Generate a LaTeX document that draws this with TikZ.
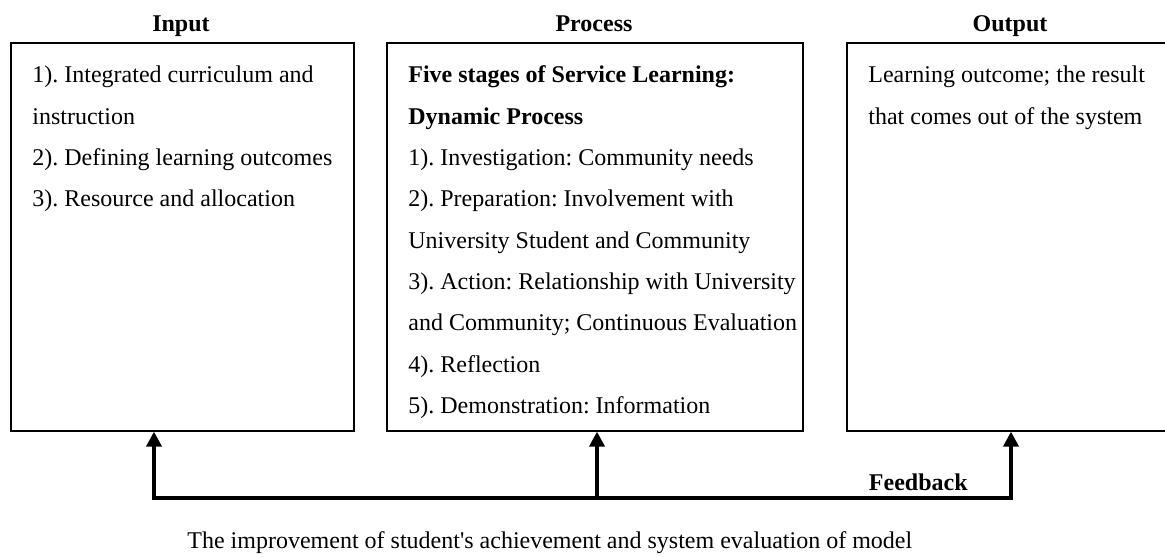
\documentclass[tikz,border=0pt]{standalone}
\usepackage{fontspec}
\setmainfont{Liberation Serif}[Ligatures=TeXOff]
\usetikzlibrary{arrows.meta}
\frenchspacing

\tikzset{
    stagebox/.style={draw, line width=0.8pt, anchor=north west, inner sep=0pt, minimum height=194pt},
    boxtext/.style={anchor=north west, inner sep=0pt, align=left, font=\fontsize{12}{20.65}\selectfont},
    heading/.style={anchor=base, inner sep=0pt, font=\fontsize{12}{14}\selectfont\bfseries},
    feedline/.style={line width=2pt, line join=miter},
    feedtip/.tip={Triangle[length=7.5pt, width=7.5pt]},
}
\newcommand{\firststrut}{\rule{0pt}{10pt}}

\begin{document}
\begin{tikzpicture}[x=0.5pt, y=-0.5pt]
    \useasboundingbox (0,0) rectangle (1165,557);
    \clip (0,0) rectangle (1165,557);

    % the three boxes
    \node[stagebox, minimum width=171.5pt] (input) at (10,42) {};
    \node[stagebox, minimum width=208pt] (process) at (386,42) {};
    \node[stagebox, minimum width=170pt] (output) at (846,42) {};

    \foreach \name/\xpos in {Input/181, Process/594, Output/1010}
        \node[heading] (head\name) at (\xpos,31) {\name};

    % box contents, first baseline at y=82.5
    \node[boxtext] (inputtext) at (32,62.5) {\firststrut1). Integrated curriculum and\\
        instruction\\
        2). Defining learning outcomes\\
        3). Resource and allocation};
    \node[boxtext] (processtext) at (408,62.5) {\firststrut\textbf{Five stages of Service Learning:}\\
        \textbf{Dynamic Process}\\
        1). Investigation: Community needs\\
        2). Preparation: Involvement with\\
        University Student and Community\\
        3). Action: Relationship with University\\
        and Community; Continuous Evaluation\\
        4). Reflection\\
        5). Demonstration: Information};
    \node[boxtext] (outputtext) at (868,62.5) {\firststrut Learning outcome; the result\\
        that comes out of the system};

    % feedback loop
    \coordinate (fbin) at (154,498);
    \coordinate (fbprocess) at (597,498);
    \coordinate (fbout) at (1011,498);
    \draw[feedline, feedtip-feedtip] (input.south -| fbin) -- (fbin) -- (fbout) -- (output.south -| fbout);
    \draw[feedline, -feedtip] (fbprocess) -- (process.south -| fbprocess);

    \node[heading, anchor=base east] (feedback) at (968,490) {Feedback};
    \node[anchor=base west, inner sep=0pt, font=\fontsize{12}{14}\selectfont] (caption) at (187,548)
        {The improvement of student's achievement and system evaluation of model};
\end{tikzpicture}
\end{document}
